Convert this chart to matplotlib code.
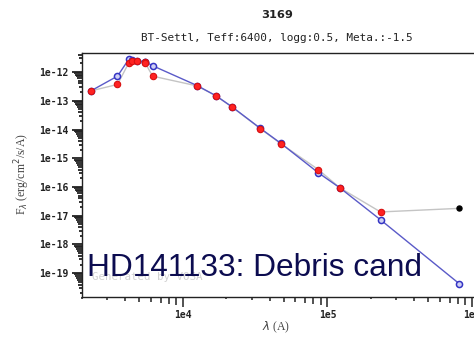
import matplotlib

matplotlib.use("Agg")

import matplotlib.pyplot as plt
import numpy as np

# Observed photometry (red), infrared excess point (black) and model SED (blue)
obs_wave = [2300, 3520, 4220, 4450, 4770, 5450, 5500, 6160, 12500, 16900,
            22000, 34300, 47600, 86600, 122000, 233000]
obs_flux = [2.2e-13, 3.7e-13, 2.1e-12, 2.37e-12, 2.37e-12, 2.24e-12, 2.0e-12,
            7.2e-13, 3.3e-13, 1.5e-13, 5.9e-14, 1.07e-14, 3.2e-15, 4.0e-16,
            9.3e-17, 1.35e-17]
excess_wave = [817000]
excess_flux = [1.8e-17]
model_wave = [2300, 3520, 4220, 4450, 4770, 5450, 5500, 6160, 12500, 16900,
              22000, 34300, 47600, 86600, 122000, 233000, 817000]
model_flux = [2.2e-13, 7.2e-13, 2.8e-12, 2.7e-12, 2.5e-12, 2.3e-12, 2.25e-12,
              1.66e-12, 3.4e-13, 1.5e-13, 6.0e-14, 1.1e-14, 3.3e-15, 3.1e-16,
              9.3e-17, 7.2e-18, 4.3e-20]

x_major = [1e4, 1e5, 1e6]
x_major_labels = ["1e4", "1e5", "1e6"]
y_major = [10.0 ** e for e in range(-19, -11)]
y_major_labels = [f"1e{e}" for e in range(-19, -11)]

W, H = 474, 339
fig = plt.figure(figsize=(W / 100, H / 100), dpi=100)

# axes box in pixels: left 82, right 490 (runs past the edge), top 53, bottom 297
ax_l, ax_r, ax_t, ax_b = 82, 490, 53, 297
ax = fig.add_axes([ax_l / W, 1 - ax_b / H, (ax_r - ax_l) / W, (ax_b - ax_t) / H])
ax.set_xscale("log")
ax.set_yscale("log")
ax.set_xlim(2000, 1.334e6)
ax.set_ylim(1.48e-20, 4.6e-12)

all_wave = obs_wave + excess_wave
all_flux = obs_flux + excess_flux
ax.plot(all_wave, all_flux, color="#c4c4c4", lw=1.0, zorder=2)
ax.plot(model_wave, model_flux, color="#5a5ac8", lw=1.0, zorder=3)
ax.plot(model_wave, model_flux, ls="none", marker="o", ms=4.4, mfc="#cfd0f4",
        mec="#3434c4", mew=1.1, zorder=4)
ax.plot(obs_wave, obs_flux, ls="none", marker="o", ms=4.6, mfc="#ff2222",
        mec="#d81010", mew=0.8, zorder=5)
ax.plot(excess_wave, excess_flux, ls="none", marker="o", ms=3.6, mfc="black",
        mec="black", zorder=5)

for s in ax.spines.values():
    s.set_linewidth(1.0)
    s.set_color("#222222")

ax.minorticks_off()
ax.set_xticks(x_major)
ax.set_xticklabels(x_major_labels)
ax.set_yticks(y_major)
ax.set_yticklabels(y_major_labels)
ax.tick_params(axis="both", length=0, labelsize=7, colors="#222222")
ax.tick_params(axis="x", pad=9)
ax.tick_params(axis="y", pad=10)
for lab in ax.get_xticklabels() + ax.get_yticklabels():
    lab.set_family("DejaVu Sans Mono")
    lab.set_fontweight("bold")

# graded tick marks: length grows with the mantissa, decade ticks longest
ax_w_px = ax_r - ax_l
ax_h_px = ax_b - ax_t
xt = ax.get_xaxis_transform()
yt = ax.get_yaxis_transform()
for d in range(3, 7):
    for m in range(1, 10):
        v = m * 10.0 ** d
        if 2000 <= v <= 1.334e6:
            ln = 10 if m == 1 else 0.9 * m
            ax.plot([v, v], [0, -ln / ax_h_px], transform=xt, color="#222222",
                    lw=1.1, clip_on=False, solid_capstyle="butt")
for d in range(-21, -11):
    for m in range(1, 10):
        v = m * 10.0 ** d
        if 1.48e-20 <= v <= 4.6e-12:
            ln = 10 if m == 1 else 0.9 * m
            ax.plot([0, -ln / ax_w_px], [v, v], transform=yt, color="#222222",
                    lw=1.3, clip_on=False, solid_capstyle="butt")

fig.text(277 / W, 1 - 15 / H, "3169", ha="center", va="center",
         fontsize=8.2, fontweight="bold", color="#222222")
fig.text(277 / W, 1 - 38 / H, "BT-Settl, Teff:6400, logg:0.5, Meta.:-1.5",
         ha="center", va="center", fontsize=7.9, family="DejaVu Sans Mono",
         color="#222222")
fig.text(22 / W, 1 - 174 / H, r"F$_\lambda$ (erg/cm$^2$/s/A)", rotation=90,
         ha="center", va="center", fontsize=8.5, family="Liberation Serif",
         color="#444444")
fig.text(276 / W, 1 - 327 / H, r"$\lambda$ (A)", ha="center", va="center",
         fontsize=8.5, family="Liberation Serif", color="#444444")

fig.text(92 / W, 1 - 277 / H, "Generated by VOSA", ha="left", va="center",
         fontsize=7.8, family="DejaVu Sans Mono", color="#d2d2d2")
fig.text(87 / W, 1 - 276 / H, "HD141133: Debris cand", ha="left",
         va="baseline", fontsize=22.8, family="Liberation Sans", color="#0c0c50")

fig.savefig("out.png", dpi=100)
